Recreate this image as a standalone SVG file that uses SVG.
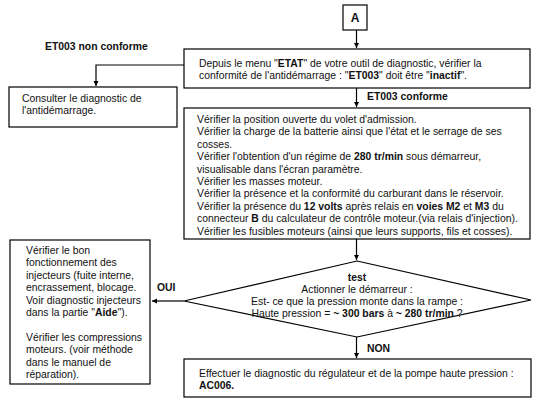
<svg xmlns="http://www.w3.org/2000/svg" width="542" height="411" viewBox="0 0 542 411">
<defs>
<marker id="ah" viewBox="0 0 10 10" refX="10" refY="5" markerWidth="5" markerHeight="7" orient="auto" markerUnits="userSpaceOnUse"><path d="M0,0 L10,5 L0,10 z" fill="#000"/></marker>
<style>
.box{fill:#fff;stroke:#000;stroke-width:1.2}
.t{font-family:"Liberation Sans",Arial,sans-serif;font-size:10.4px;fill:#111}
.b{font-weight:bold}
.c{text-anchor:middle}
.ln{fill:none;stroke:#000;stroke-width:1.2}
</style>
</defs>
<rect width="542" height="411" fill="#fff"/>
<g id="connectors">
<path class="ln" d="M356.5,30 V48" marker-end="url(#ah)"/>
<path class="ln" d="M184,65 H96 V86" marker-end="url(#ah)"/>
<path class="ln" d="M356.5,88 V107" marker-end="url(#ah)"/>
<path class="ln" d="M356.5,239 V260" marker-end="url(#ah)"/>
<path class="ln" d="M184,301 H152" marker-end="url(#ah)"/>
<path class="ln" d="M356.5,337 V358" marker-end="url(#ah)"/>
<text class="t b" x="45" y="50">ET003 non conforme</text>
<text class="t b" x="367" y="100">ET003 conforme</text>
<text class="t b" x="157" y="291">OUI</text>
<text class="t b" x="367" y="352">NON</text>
</g>
<g id="nodeA">
<rect class="box" x="343" y="5" width="24" height="25"/>
<text class="t b c" x="355" y="22" style="font-size:12px">A</text>
</g>
<g id="node-etat">
<rect class="box" x="184" y="49" width="346" height="39"/>
<text class="t" x="199" y="67">Depuis le menu "<tspan class="b">ETAT</tspan>" de votre outil de diagnostic, vérifier la</text>
<text class="t" x="199" y="79">conformité de l'antidémarrage : "<tspan class="b">ET003</tspan>" doit être "<tspan class="b">inactif</tspan>".</text>
</g>
<g id="node-antidemarrage">
<rect class="box" x="9" y="87" width="168" height="40"/>
<text class="t" x="22" y="102">Consulter le diagnostic de</text>
<text class="t" x="22" y="114">l'antidémarrage.</text>
</g>
<g id="node-checks">
<rect class="box" x="184" y="108" width="346" height="131"/>
<text class="t" x="197" y="123">Vérifier la position ouverte du volet d'admission.</text>
<text class="t" x="197" y="135.4">Vérifier la charge de la batterie ainsi que l'état et le serrage de ses</text>
<text class="t" x="197" y="147.8">cosses.</text>
<text class="t" x="197" y="160.2">Vérifier l'obtention d'un régime de <tspan class="b">280 tr/min</tspan> sous démarreur,</text>
<text class="t" x="197" y="172.6">visualisable dans l'écran paramètre.</text>
<text class="t" x="197" y="185">Vérifier les masses moteur.</text>
<text class="t" x="197" y="197.4">Vérifier la présence et la conformité du carburant dans le réservoir.</text>
<text class="t" x="197" y="209.8">Vérifier la présence du <tspan class="b">12 volts</tspan> après relais en <tspan class="b">voies M2</tspan> et <tspan class="b">M3</tspan> du</text>
<text class="t" x="197" y="222.2">connecteur <tspan class="b">B</tspan> du calculateur de contrôle moteur.(via relais d'injection).</text>
<text class="t" x="197" y="234.6">Vérifier les fusibles moteurs (ainsi que leurs supports, fils et cosses).</text>
</g>
<g id="node-test">
<polygon class="box" points="357,261 531,300 357,337 184,301"/>
<text class="t b c" x="357" y="281">test</text>
<text class="t c" x="357" y="293">Actionner le démarreur :</text>
<text class="t c" x="357" y="305">Est- ce que la pression monte dans la rampe :</text>
<text class="t c" x="357" y="317">Haute pression = <tspan class="b">~ 300 bars</tspan> à <tspan class="b">~ 280 tr/min</tspan> ?</text>
</g>
<g id="node-injecteurs">
<rect class="box" x="10" y="240" width="140" height="144"/>
<text class="t" x="26" y="254">Vérifier le bon</text>
<text class="t" x="26" y="266.4">fonctionnement des</text>
<text class="t" x="26" y="278.8">injecteurs (fuite interne,</text>
<text class="t" x="26" y="291.2">encrassement, blocage.</text>
<text class="t" x="26" y="303.6">Voir diagnostic injecteurs</text>
<text class="t" x="26" y="316">dans la partie "<tspan class="b">Aide</tspan>").</text>
<text class="t" x="26" y="340.8">Vérifier les compressions</text>
<text class="t" x="26" y="353.2">moteurs. (voir méthode</text>
<text class="t" x="26" y="365.6">dans le manuel de</text>
<text class="t" x="26" y="378">réparation).</text>
</g>
<g id="node-ac006">
<rect class="box" x="184" y="359" width="347" height="38"/>
<text class="t" x="199" y="377">Effectuer le diagnostic du régulateur et de la pompe haute pression :</text>
<text class="t b" x="199" y="389">AC006.</text>
</g>
</svg>
